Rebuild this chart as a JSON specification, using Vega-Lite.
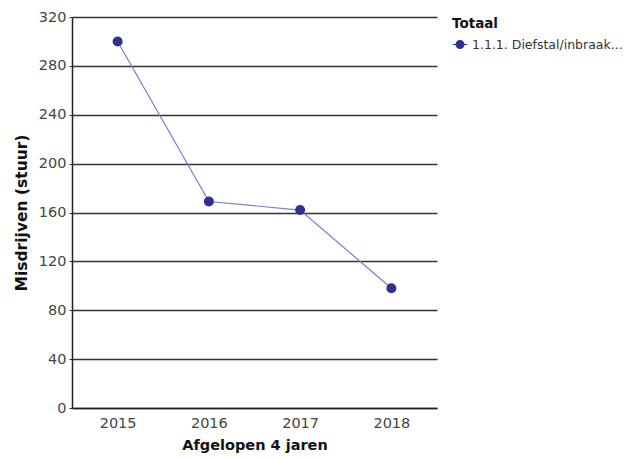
{
  "$schema": "https://vega.github.io/schema/vega-lite/v6.json",
  "autosize": {"type": "none"},
  "padding": {"left": 72, "top": 17, "right": 195, "bottom": 52},
  "width": 365,
  "height": 391,
  "background": "white",
  "config": {
    "view": {"stroke": null},
    "font": "DejaVu Sans"
  },
  "data": {
    "values": [
      {"jaar": "2015", "waarde": 300, "reeks": "1.1.1. Diefstal/inbraak..."},
      {"jaar": "2016", "waarde": 169, "reeks": "1.1.1. Diefstal/inbraak..."},
      {"jaar": "2017", "waarde": 162, "reeks": "1.1.1. Diefstal/inbraak..."},
      {"jaar": "2018", "waarde": 98, "reeks": "1.1.1. Diefstal/inbraak..."}
    ]
  },
  "encoding": {
    "x": {
      "field": "jaar", "type": "ordinal",
      "scale": {"type": "point", "padding": 0.5},
      "axis": {
        "title": "Afgelopen 4 jaren", "labelAngle": 0, "ticks": false,
        "domainColor": "#222", "domainWidth": 1.5,
        "labelFont": "DejaVu Sans", "labelFontSize": 14.5, "labelColor": "#444", "labelPadding": 8,
        "titleFont": "DejaVu Sans", "titleFontSize": 14.5, "titleFontWeight": "bold", "titleColor": "#111", "titlePadding": 9
      }
    },
    "y": {
      "field": "waarde", "type": "quantitative",
      "scale": {"domain": [0, 320], "nice": false},
      "axis": {
        "title": "Misdrijven (stuur)", "values": [0, 40, 80, 120, 160, 200, 240, 280, 320],
        "grid": true, "gridColor": "#333", "gridWidth": 1.5, "gridOpacity": 1,
        "ticks": true, "tickSize": 3, "tickColor": "#333",
        "domainColor": "#222", "domainWidth": 1.5,
        "labelFont": "DejaVu Sans", "labelFontSize": 14.5, "labelColor": "#444", "labelPadding": 3,
        "titleFont": "DejaVu Sans", "titleFontSize": 15.5, "titleFontWeight": "bold", "titleColor": "#111", "titlePadding": 9
      }
    }
  },
  "layer": [
    {
      "mark": {"type": "line", "stroke": "#7b7bcc", "strokeWidth": 1.2}
    },
    {
      "mark": {"type": "point", "filled": true, "size": 100, "opacity": 1, "shape": "circle"},
      "encoding": {
        "color": {
          "field": "reeks", "type": "nominal",
          "scale": {"range": ["#2e3192"]},
          "legend": {
            "title": "Totaal", "orient": "right", "offset": 15,
            "titleFont": "DejaVu Sans", "titleFontSize": 13.5, "titleFontWeight": "bold", "titleColor": "#111", "titlePadding": 6,
            "labelFont": "DejaVu Sans", "labelFontSize": 12.5, "labelColor": "#333", "labelLimit": 200,
            "symbolType": "M-1,0L1,0M-0.55,0A0.55,0.55,0,1,1,0.55,0A0.55,0.55,0,1,1,-0.55,0Z",
            "symbolSize": 200, "symbolStrokeWidth": 1.2, "symbolFillColor": "#2e3192", "symbolStrokeColor": "#2e3192"
          }
        }
      }
    }
  ]
}
